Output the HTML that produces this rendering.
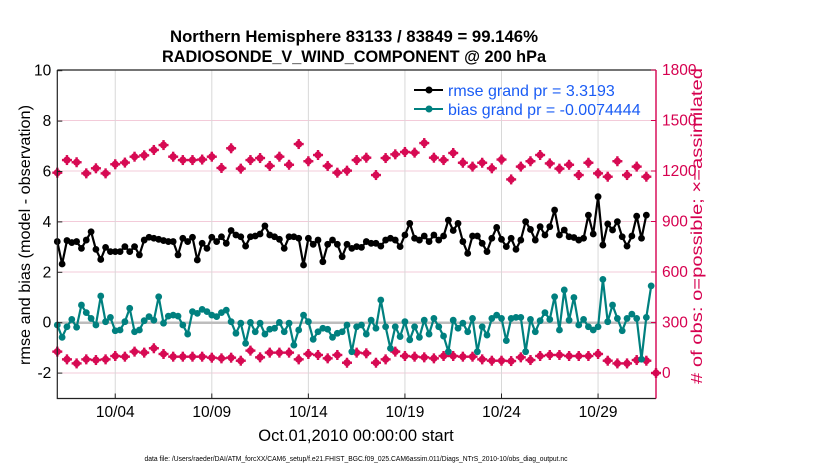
<!DOCTYPE html>
<html><head><meta charset="utf-8">
<style>
html,body{margin:0;padding:0;background:#fff;}
svg{display:block;font-family:"Liberation Sans",Arial,sans-serif;}
</style></head>
<body>
<svg id="chart" width="830" height="470" viewBox="0 0 830 470" xmlns="http://www.w3.org/2000/svg">
<rect width="830" height="470" fill="#fff"/>
<g id="grid"></g>
<g id="series"></g>
<g id="axes"></g>
<text x="354" y="42" text-anchor="middle" font-size="16.5" font-weight="bold" textLength="368" lengthAdjust="spacingAndGlyphs">Northern Hemisphere 83133 / 83849 = 99.146%</text>
<text x="354" y="62" text-anchor="middle" font-size="16.5" font-weight="bold" textLength="384" lengthAdjust="spacingAndGlyphs">RADIOSONDE_V_WIND_COMPONENT @ 200 hPa</text>
<text transform="translate(30,235) rotate(-90)" text-anchor="middle" font-size="16" textLength="260" lengthAdjust="spacingAndGlyphs">rmse and bias (model - observation)</text>
<text transform="translate(702,226) rotate(-90)" text-anchor="middle" font-size="16" fill="#d6004f" textLength="316" lengthAdjust="spacingAndGlyphs"># of obs: o=possible; ×=assimilated</text>
<text x="356" y="441" text-anchor="middle" font-size="16.5">Oct.01,2010 00:00:00 start</text>
<text x="356" y="461" text-anchor="middle" font-size="7" textLength="423" lengthAdjust="spacingAndGlyphs">data file: /Users/raeder/DAI/ATM_forcXX/CAM6_setup/f.e21.FHIST_BGC.f09_025.CAM6assim.011/Diags_NTrS_2010-10/obs_diag_output.nc</text>
<g>
 <line x1="414" y1="90" x2="443" y2="90" stroke="#000" stroke-width="2"/>
 <circle cx="429" cy="90" r="3.5" fill="#000"/>
 <text x="448" y="96" font-size="16" fill="#1a5cf5">rmse grand pr = 3.3193</text>
 <line x1="414" y1="109" x2="443" y2="109" stroke="#00807f" stroke-width="2"/>
 <circle cx="429" cy="109" r="3.5" fill="#00807f"/>
 <text x="448" y="115" font-size="16" fill="#1a5cf5">bias grand pr = -0.0074444</text>
</g>
</svg>
<script>
const rmse = [3.22,2.33,3.26,3.18,3.22,2.95,3.28,3.61,2.91,2.51,2.99,2.82,2.82,2.82,3.02,2.82,3.02,2.69,3.28,3.39,3.35,3.31,3.26,3.22,3.22,2.69,3.35,3.22,3.39,2.49,3.15,
 2.95,3.39,3.22,3.41,3.15,3.66,3.48,3.41,3.04,3.41,3.44,3.52,3.84,3.48,3.41,3.31,2.95,3.41,3.41,3.35,2.29,3.35,3.11,3.28,2.42,3.11,3.28,3.11,2.62,3.11,2.95,
 3.02,2.99,3.22,3.15,3.15,3.04,3.28,3.35,3.28,3.02,3.48,3.94,3.35,3.28,3.44,3.22,3.48,3.28,3.44,4.07,3.66,3.94,3.22,2.75,3.44,3.44,3.15,2.82,3.35,3.78,3.31,
 3.02,3.35,2.91,3.28,4.01,3.70,3.28,3.81,3.48,3.81,4.47,3.48,3.68,3.41,3.38,3.28,
 3.35,4.27,3.52,5.0,3.08,3.92,3.68,4.01,3.41,3.04,3.44,4.23,3.35,4.27];
const bias = [-0.09,-0.58,-0.16,0.13,-0.18,0.70,0.40,0.17,-0.09,1.06,0.04,0.21,-0.32,-0.29,0.04,0.57,-0.36,-0.29,0.08,0.24,0.10,1.03,-0.02,0.26,0.30,0.26,-0.09,-0.45,0.44,0.37,0.53,
 0.44,0.30,0.24,0.40,0.50,0.04,-0.42,-0.02,-0.82,0.01,-0.36,-0.02,-0.45,-0.26,-0.22,0.01,-0.36,-0.02,-0.89,-0.29,0.30,0.04,-0.66,-0.36,-0.22,-0.26,-0.58,-0.42,-0.36,-0.09,-1.15,
 -0.16,-0.09,-0.45,0.10,-0.22,0.90,-0.16,-1.02,-0.16,-0.55,0.04,-0.68,-0.16,-0.58,0.10,-0.45,0.17,-0.16,-0.53,-1.15,0.10,-0.22,-0.02,-0.36,0.17,-1.15,-0.16,-0.49,0.17,0.30,0.17,
 -0.71,0.17,0.21,0.21,-1.15,0.13,-0.36,0.08,0.40,0.13,1.03,-0.29,1.30,0.10,1.00,-0.09,0.13,-0.16,-0.29,-0.16,1.72,0.04,0.70,0.17,-0.32,0.17,0.34,0.17,-1.45,0.21,1.46];
const obsPossible = [1190,1265,1252,1186,1216,1186,1240,1250,1285,1293,1325,1354,1285,1265,1265,1268,
 1285,1218,1335,1214,1265,1277,1230,1285,1237,1360,1258,1295,1230,1190,1202,1265,
 1279,1176,1277,1299,1313,1309,1366,1279,1265,1307,1249,1226,1249,1216,1268,
 1150,1226,1258,1295,1245,1214,1237,1176,1249,1186,1166,1258,1176,1226,1166];
const obsAssim = [127,81,57,81,77,81,101,97,127,121,147,113,97,97,97,97,
 91,87,91,73,133,93,121,121,121,81,113,107,87,107,61,121,
 117,61,81,127,101,97,93,87,101,101,97,97,81,73,73,
 71,93,77,101,107,107,101,101,101,113,73,57,57,77,73,0];
const xTickDays = [3,8,13,18,23,28];
const xTickLabels = ["10/04","10/09","10/14","10/19","10/24","10/29"];
const leftTicks = [-2,0,2,4,6,8,10];
const rightTicks = [0,300,600,900,1200,1500,1800];

const NS="http://www.w3.org/2000/svg";
const X0=57.3,X1=656,Y0=70,Y1=398.5;
const xs=d=>X0+(d/31)*(X1-X0);
const yL=v=>322.7-v*25.2;
const yR=c=>373-c/300*50.5;
function mk(tag,attrs,parent){const e=document.createElementNS(NS,tag);for(const k in attrs)e.setAttribute(k,attrs[k]);parent.appendChild(e);return e;}
const grid=document.getElementById('grid'),ser=document.getElementById('series'),ax=document.getElementById('axes');

rightTicks.forEach(c=>{
 const l=mk('line',{x1:X0,x2:X1,y1:yR(c),y2:yR(c),stroke:'#f3cbd9','stroke-width':1},grid);
 
 
});
xTickDays.forEach(d=>{
 const l=mk('line',{x1:xs(d),x2:xs(d),y1:Y0,y2:Y1,stroke:'#d8d8d8','stroke-width':1},grid);
 
 
});
const zl=mk('line',{x1:X0,x2:X1,y1:yL(0),y2:yL(0),stroke:'#bdbdbd','stroke-width':2.5},grid);



function blob(cx,cy,g){
 mk('circle',{cx:cx,cy:cy,r:3.6,fill:'#d70a53'},g);
 mk('rect',{x:cx-5,y:cy-1.2,width:10,height:2.4,fill:'#d70a53'},g);
 mk('rect',{x:cx-1.2,y:cy-5,width:2.4,height:10,fill:'#d70a53'},g);
}
const gp=mk('g',{},ser);


obsPossible.forEach((c,j)=>blob(xs(j/2),yR(c),gp));
const ga=mk('g',{},ser);


obsAssim.forEach((c,j)=>blob(xs(j/2),yR(c),ga));

function line(vals,color,name){
 const g=mk('g',{},ser);
 
 
 const pts=vals.map((v,i)=>xs(i/4).toFixed(1)+','+yL(v).toFixed(1)).join(' ');
 mk('polyline',{points:pts,fill:'none',stroke:color,'stroke-width':2.2,'stroke-linejoin':'round'},g);
 vals.forEach((v,i)=>mk('circle',{cx:xs(i/4),cy:yL(v),r:3.4,fill:color},g));
}
line(bias,'#00807f','bias-series');
line(rmse,'#000','rmse-series');

const fr=mk('path',{d:`M${X0},${Y0} H${X1} M${X0},${Y0} V${Y1} H${X1}`,stroke:'#222',fill:'none','stroke-width':1.2},ax);


const ra=mk('line',{x1:X1,x2:X1,y1:Y0,y2:Y1,stroke:'#d6004f','stroke-width':1.4},ax);


leftTicks.forEach(v=>{
 mk('line',{x1:X0,x2:X0+5,y1:yL(v),y2:yL(v),stroke:'#222'},ax);
 const t=mk('text',{x:X0-6,y:yL(v)+5,'text-anchor':'end','font-size':15.5},ax);
 t.textContent=v;
 
 
});
rightTicks.forEach(c=>{
 mk('line',{x1:X1-5,x2:X1,y1:yR(c),y2:yR(c),stroke:'#d6004f'},ax);
 const t=mk('text',{x:X1+6,y:yR(c)+5,'font-size':15.5,fill:'#d6004f'},ax);
 t.textContent=c;
 
 
});
xTickDays.forEach((d,i)=>{
 mk('line',{x1:xs(d),x2:xs(d),y1:Y1,y2:Y1-5,stroke:'#222'},ax);
 const t=mk('text',{x:xs(d),y:417,'text-anchor':'middle','font-size':15.5},ax);
 t.textContent=xTickLabels[i];
 
 
});
</script>
</body></html>
